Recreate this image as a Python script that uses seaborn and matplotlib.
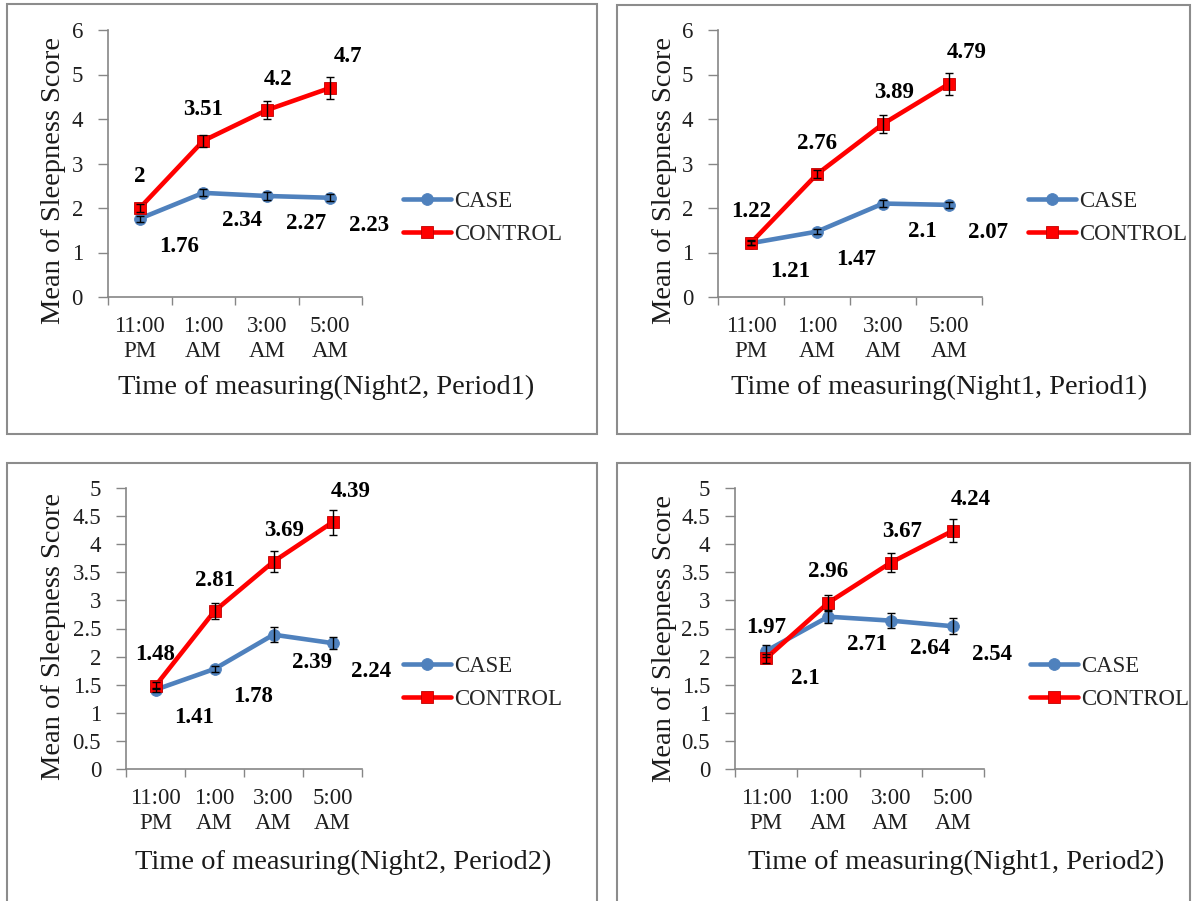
import matplotlib
matplotlib.use("Agg")
import matplotlib.pyplot as plt
from matplotlib.patches import Rectangle
import pandas as pd
import seaborn as sns
import numpy as np

# data
times = ["11:00\nPM", "1:00\nAM", "3:00\nAM", "5:00\nAM"]
groups = ["CASE", "CONTROL"]

case_n2p1 = [1.76, 2.34, 2.27, 2.23]
control_n2p1 = [2.0, 3.51, 4.2, 4.7]
case_err_n2p1 = [0.07, 0.08, 0.08, 0.08]
control_err_n2p1 = [0.08, 0.13, 0.2, 0.24]

case_n1p1 = [1.21, 1.47, 2.1, 2.07]
control_n1p1 = [1.22, 2.76, 3.89, 4.79]
case_err_n1p1 = [0.04, 0.05, 0.07, 0.07]
control_err_n1p1 = [0.05, 0.09, 0.2, 0.25]

case_n2p2 = [1.41, 1.78, 2.39, 2.24]
control_n2p2 = [1.48, 2.81, 3.69, 4.39]
case_err_n2p2 = [0.04, 0.06, 0.13, 0.11]
control_err_n2p2 = [0.06, 0.14, 0.19, 0.22]

case_n1p2 = [2.1, 2.71, 2.64, 2.54]
control_n1p2 = [1.97, 2.96, 3.67, 4.24]
case_err_n1p2 = [0.1, 0.12, 0.13, 0.14]
control_err_n1p2 = [0.08, 0.14, 0.17, 0.2]

xlabels = ["Time of measuring(Night2, Period1)", "Time of measuring(Night1, Period1)",
           "Time of measuring(Night2, Period2)", "Time of measuring(Night1, Period2)"]

W, H = 1193, 901
colors = {"CASE": "#4F81BD", "CONTROL": "#FF0000"}

sns.set_theme(style="white")
plt.rcParams["font.family"] = ["Liberation Serif", "DejaVu Serif"]

fig = plt.figure(figsize=(W / 100, H / 100), dpi=100)


def fx(x):
    return x / W


def fy(y):
    return 1 - y / H


# layout in pixels: axes box, ylabel centre, xlabel centre, legend anchor, panel frame
layout = [
    dict(ax=(108, 30, 362, 297), yl=(54, 180), xl=(326, 387), lg=(403, 218), box=(7, 4, 597, 434), ymax=6, step=1),
    dict(ax=(718, 30, 982, 297), yl=(664, 180), xl=(939, 387), lg=(1028, 218), box=(617, 5, 1190, 434), ymax=6, step=1),
    dict(ax=(126, 488, 362, 769), yl=(54, 637), xl=(343, 862), lg=(403, 683), box=(7, 463, 597, 915), ymax=5, step=0.5),
    dict(ax=(735, 488, 984, 769), yl=(664, 638), xl=(956, 862), lg=(1030, 683), box=(617, 463, 1190, 915), ymax=5, step=0.5),
]
series = [
    (case_n2p1, control_n2p1, case_err_n2p1, control_err_n2p1),
    (case_n1p1, control_n1p1, case_err_n1p1, control_err_n1p1),
    (case_n2p2, control_n2p2, case_err_n2p2, control_err_n2p2),
    (case_n1p2, control_n1p2, case_err_n1p2, control_err_n1p2),
]

# label nudges in pixels (Excel places them a bit oddly)
control_dx = [0, 0, 11, 18]
case_dx, case_dy, control_dy = 39, 28, -31
px2pt = 0.72

for lay, (case, control, case_err, control_err), xlab in zip(layout, series, xlabels):
    x0, y0, x1, y1 = lay["ax"]
    ax = fig.add_axes([fx(x0), fy(y1), (x1 - x0) / W, (y1 - y0) / H])

    df = pd.DataFrame({
        "pos": list(range(4)) * 2,
        "score": case + control,
        "group": ["CASE"] * 4 + ["CONTROL"] * 4,
    })
    sns.lineplot(data=df, x="pos", y="score", hue="group", style="group",
                 markers={"CASE": "o", "CONTROL": "s"}, dashes=False,
                 palette=colors, ax=ax, linewidth=3.3, markersize=8.5,
                 markeredgewidth=0.6)
    for line in ax.lines:
        if line.get_color() == colors["CONTROL"]:
            line.set_zorder(4)
            line.set_markeredgecolor("#C00000")
        else:
            line.set_zorder(3)
            line.set_markeredgecolor("#4F81BD")

    ax.errorbar(range(4), case, yerr=case_err, fmt="none", ecolor="black",
                elinewidth=1, capsize=3, capthick=1, zorder=5)
    ax.errorbar(range(4), control, yerr=control_err, fmt="none", ecolor="black",
                elinewidth=1, capsize=3, capthick=1, zorder=5)

    for i, v in enumerate(case):
        ax.annotate(f"{v:g}", (i, v), xytext=(case_dx * px2pt, -case_dy * px2pt),
                    textcoords="offset points", ha="center", va="center",
                    fontsize=16.5, fontweight="bold", color="black")
    for i, v in enumerate(control):
        ax.annotate(f"{v:g}", (i, v), xytext=(control_dx[i] * px2pt, -control_dy * px2pt),
                    textcoords="offset points", ha="center", va="center",
                    fontsize=16.5, fontweight="bold", color="black")

    ax.set_xlim(-0.5, 3.5)
    ax.set_ylim(0, lay["ymax"])
    ax.set_xticks(range(4))
    ax.set_xticklabels(times, fontsize=16.5, linespacing=1.2, color="#1f1f1f")
    ax.set_xticks(np.arange(-0.5, 4, 1), minor=True)
    ax.tick_params(axis="x", which="major", length=0, pad=14)
    ax.tick_params(axis="x", which="minor", length=6, width=1, color="#868686", direction="out", bottom=True)
    yt = np.arange(0, lay["ymax"] + 0.01, lay["step"])
    ax.set_yticks(yt)
    ax.set_yticklabels([f"{t:g}" for t in yt], fontsize=16.5, color="#1f1f1f")
    ax.tick_params(axis="y", length=7, width=1, color="#868686", direction="out", left=True, pad=11)
    for s in ["top", "right"]:
        ax.spines[s].set_visible(False)
    for s in ["left", "bottom"]:
        ax.spines[s].set_color("#868686")
        ax.spines[s].set_linewidth(1.2)
    ax.set_xlabel("")
    ax.set_ylabel("")

    handles, labels = ax.get_legend_handles_labels()
    ax.legend(handles, labels, loc="center left", bbox_to_anchor=(fx(lay["lg"][0]), fy(lay["lg"][1])),
              bbox_transform=fig.transFigure, frameon=False, fontsize=16.5,
              handlelength=2.1, handletextpad=0.15, borderpad=0, borderaxespad=0,
              labelspacing=0.55)

    fig.text(fx(lay["yl"][0]), fy(lay["yl"][1]), "Mean of Sleepness Score", rotation=90,
             ha="center", va="center", fontsize=20.5, color="#1a1a1a")
    fig.text(fx(lay["xl"][0]), fy(lay["xl"][1]), xlab,
             ha="center", va="center", fontsize=20.5, color="#1a1a1a")

    bx0, by0, bx1, by1 = lay["box"]
    fig.add_artist(Rectangle((fx(bx0), fy(by1)), (bx1 - bx0) / W, (by1 - by0) / H,
                             transform=fig.transFigure, fill=False, ec="#8c8c8c", lw=1.5))

fig.savefig("out.png", dpi=100)
